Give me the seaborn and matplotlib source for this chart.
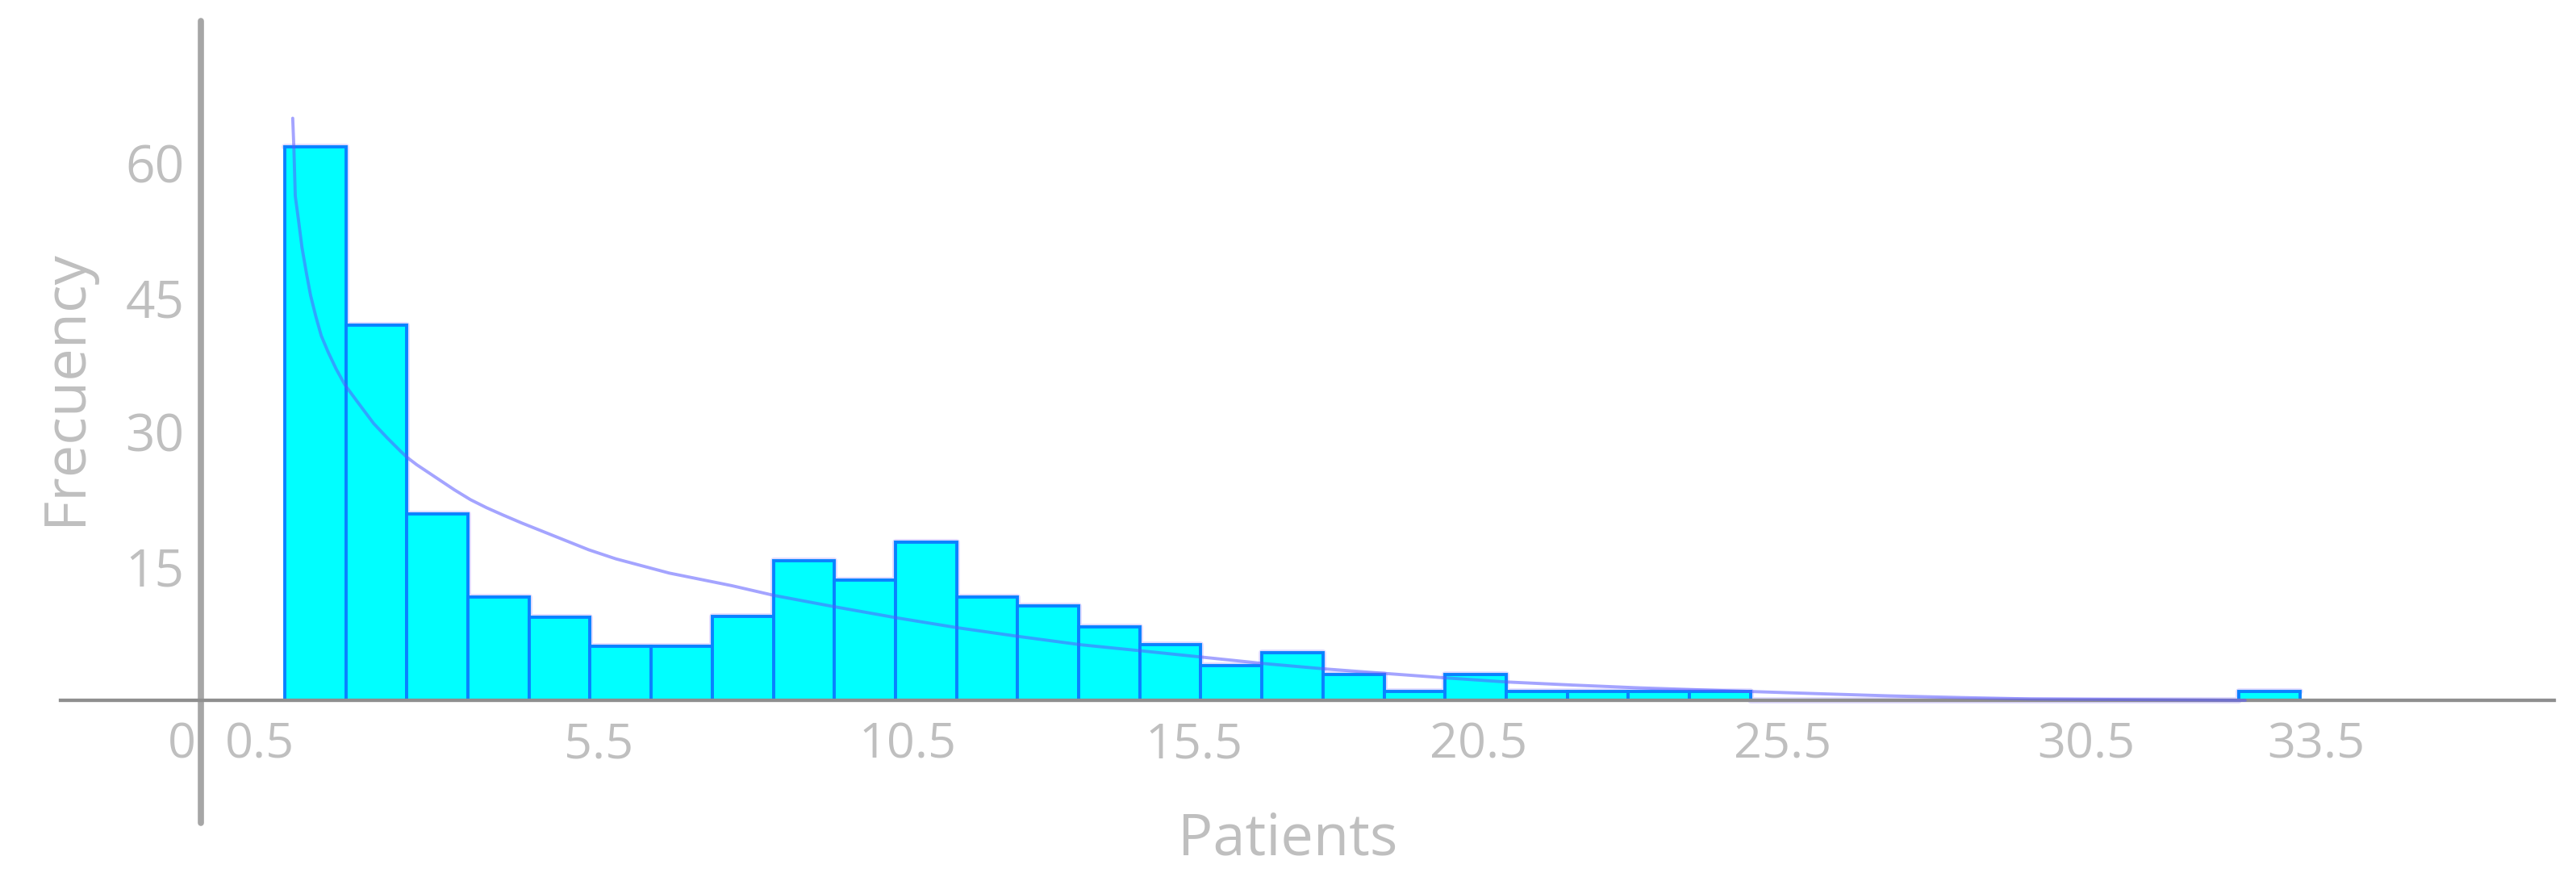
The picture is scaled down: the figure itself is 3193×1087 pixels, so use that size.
import numpy as np
import pandas as pd
import seaborn as sns
import matplotlib.pyplot as plt

# histogram counts, one bin per patient count, bins [0.5, 1.5), [1.5, 2.5) ...
bin_edges = list(np.arange(0.5, 34.5, 1.0))
counts = [61.8, 41.9, 20.8, 11.5, 9.3, 6.0, 6.0, 9.4, 15.6, 13.4, 17.7,
          11.5, 10.5, 8.2, 6.2, 3.9, 5.3, 2.9, 1.0, 2.9, 1.0, 1.0, 1.0,
          1.0, 0, 0, 0, 0, 0, 0, 0, 0, 1.0]

# fitted curve
curve_x = [0.63, 0.65, 0.672, 0.725, 0.781, 0.857, 0.923, 1.011, 1.098, 1.209,
           1.341, 1.487, 1.693, 1.957, 2.178, 2.398, 2.508, 2.662, 2.838,
           3.014, 3.278, 3.542, 3.806, 4.07, 4.38, 4.60, 5.04, 5.48, 5.92,
           6.36, 6.80, 7.02, 7.82, 8.52, 9.54, 10.53, 11.52, 12.55, 13.54,
           14.56, 15.55, 16.54, 17.54, 18.52, 19.52, 20.5, 21.6, 22.65, 24.2,
           25.56, 26.75, 28.0, 29.1, 32.6]
curve_y = [65.0, 61.5, 56.3, 53.6, 50.6, 47.6, 45.2, 42.8, 40.7, 38.9,
           37.0, 35.2, 33.3, 30.9, 29.3, 27.8, 27.1, 26.3, 25.5,
           24.7, 23.5, 22.4, 21.5, 20.7, 19.8, 19.2, 18.0, 16.8, 15.8,
           15.0, 14.2, 13.9, 12.8, 11.7, 10.4, 9.2, 8.1, 7.1, 6.2,
           5.5, 4.8, 4.1, 3.5, 3.0, 2.5, 2.05, 1.7, 1.4, 1.05,
           0.75, 0.5, 0.3, 0.15, 0.0]

x_tick_labels = ["0", "0.5", "5.5", "10.5", "15.5", "20.5", "25.5", "30.5", "33.5"]
x_tick_pos = [-1.19, 0.09, 5.64, 10.70, 15.39, 20.04, 25.03, 30.0, 33.76]
y_ticks = [15, 30, 45, 60]

hist_df = pd.DataFrame({
    "patients": [(a + b) / 2 for a, b in zip(bin_edges[:-1], bin_edges[1:])],
    "count": counts,
})

sns.set_style("white")
plt.rcParams["font.family"] = ["Open Sans", "DejaVu Sans"]

TEXT = "#bfbfbf"

fig = plt.figure(figsize=(31.93, 10.87), dpi=100)
ax = fig.add_axes([0, 0, 1, 1])

# pale lavender halo around the bars
sns.histplot(data=hist_df, x="patients", weights="count", bins=bin_edges,
             element="step", fill=False, color="#b8acff", alpha=0.45,
             linewidth=5.5, ax=ax, zorder=1)
# the bars
sns.histplot(data=hist_df, x="patients", weights="count", bins=bin_edges,
             color="#00ffff", edgecolor="#0a82ff", alpha=1, linewidth=2.8,
             ax=ax, zorder=2)
for p in ax.patches:
    if p.get_height() == 0:
        p.set_visible(False)

# fitted curve
sns.lineplot(x=curve_x, y=curve_y, color="#5a5aff", alpha=0.55, linewidth=2.8,
             estimator=None, sort=False, ax=ax, zorder=5)

ax.set_xlim(-4.163, 38.017)
ax.set_ylim(-19.73, 78.2)

# axis lines crossing like in the original
for side in ["top", "right"]:
    ax.spines[side].set_visible(False)
ax.spines["bottom"].set_position(("data", 0))
ax.spines["bottom"].set_bounds(-3.17, 37.66)
ax.spines["bottom"].set_color("#8f8f8f")
ax.spines["bottom"].set_linewidth(3.1)
ax.spines["bottom"].set_zorder(4)
ax.spines["left"].set_position(("data", -0.874))
ax.spines["left"].set_bounds(-13.7, 75.9)
ax.spines["left"].set_color("#a6a6a6")
ax.spines["left"].set_linewidth(5.5)
ax.spines["left"].set_capstyle("round")

ax.set_xticks(x_tick_pos, x_tick_labels)
ax.set_yticks(y_ticks, [str(v) for v in y_ticks])
ax.tick_params(axis="x", length=0, pad=18, labelsize=44, labelcolor=TEXT)
ax.tick_params(axis="y", length=0, pad=15, labelsize=46, labelcolor=TEXT)

ax.set_xlabel("Patients", fontsize=52, color=TEXT)
ax.xaxis.label.set_va("baseline")
ax.xaxis.set_label_coords(0.5, 1 - 1060 / 1087)
ax.set_ylabel("Frecuency", fontsize=52, color=TEXT)
ax.yaxis.label.set_va("baseline")
ax.yaxis.set_label_coords(100 / 3193, 1 - 480 / 1087)

fig.savefig("out.png", dpi=100, facecolor="white")
